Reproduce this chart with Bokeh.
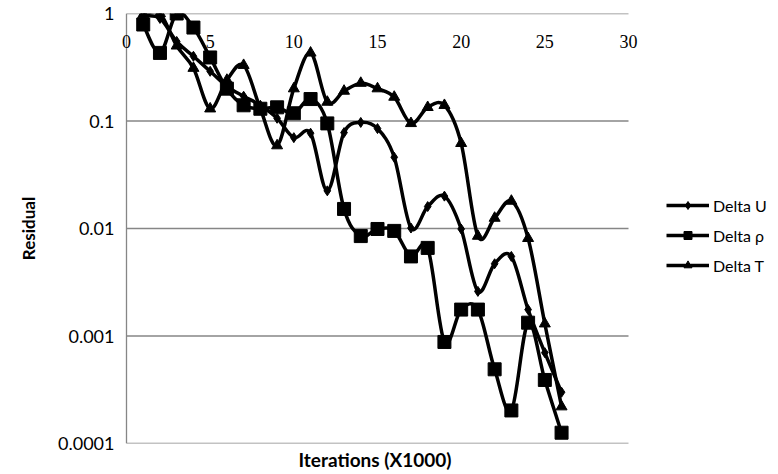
from bokeh.plotting import figure
from bokeh.models import (Range1d, FixedTicker, LabelSet, ColumnDataSource,
                          Legend, LegendItem, Title)
from bokeh.embed import file_html
from bokeh.resources import INLINE
import math

# ---- data ----
iterations = list(range(1, 27))  # x 1000
delta_u = [0.95, 0.9, 0.55, 0.40, 0.29, 0.21, 0.17, 0.14, 0.106, 0.070,
           0.077, 0.0224, 0.078, 0.097, 0.085, 0.046, 0.0101, 0.016, 0.020, 0.0099,
           0.0026, 0.0047, 0.0055, 0.00176, 0.0007, 0.0003]
delta_rho = [0.79, 0.43, 1.0, 0.74, 0.39, 0.20, 0.14, 0.13, 0.134, 0.118,
             0.16, 0.095, 0.0152, 0.0085, 0.0099, 0.0095, 0.0055, 0.0066, 0.00088, 0.00176,
             0.00176, 0.00049, 0.000203, 0.00133, 0.00039, 0.000126]
delta_t = [0.98, 1.0, 0.5, 0.31, 0.13, 0.24, 0.33, 0.13, 0.059, 0.2,
           0.43, 0.15, 0.19, 0.225, 0.2, 0.167, 0.095, 0.134, 0.14, 0.062,
           0.0085, 0.0125, 0.018, 0.0081, 0.0013, 0.00022]
series_names = ["Delta U", "Delta \u03c1", "Delta T"]
x_ticks = [0, 5, 10, 15, 20, 25, 30]
x_tick_labels = ["0", "5", "10", "15", "20", "25", "30"]
y_ticks = [0.0001, 0.001, 0.01, 0.1, 1]
y_tick_labels = ["0.0001", "0.001", "0.01", "0.1", "1"]

FONT = "Lato"
GRID = "#868686"

W, H = 770, 472
AXIS_PX = 126          # where x = 0 sits inside the figure
LEFT = 116             # frame starts a little left of x = 0 so the "0" label is not clipped
PX_PER_UNIT = 502 / 30.0
X_START = -(AXIS_PX - LEFT) / PX_PER_UNIT
X_END = (W - AXIS_PX) / PX_PER_UNIT   # frame continues under the legend

p = figure(width=W, height=H, y_axis_type="log",
           x_range=Range1d(X_START, X_END), y_range=Range1d(y_ticks[0], y_ticks[-1]),
           output_backend="svg", toolbar_location=None,
           min_border_left=LEFT, min_border_right=0,
           min_border_top=13, min_border_bottom=0)
p.outline_line_color = None
p.background_fill_color = "white"
p.border_fill_color = "white"

# y axis (labels and title only; its line is drawn at x = 0 below)
p.yaxis.ticker = FixedTicker(ticks=y_ticks)
p.yaxis.major_label_overrides = {t: l for t, l in zip(y_ticks, y_tick_labels)}
p.yaxis.major_tick_line_color = None
p.yaxis.minor_tick_line_color = None
p.yaxis.major_tick_out = 0
p.yaxis.minor_tick_out = 0
p.yaxis.major_tick_in = 0
p.yaxis.minor_tick_in = 0
p.yaxis.axis_line_color = None
p.yaxis.major_label_standoff = 2
p.yaxis.major_label_text_font = FONT
p.yaxis.major_label_text_font_size = "18px"
p.yaxis.major_label_text_color = "black"
p.yaxis.axis_label = "Residual"
p.yaxis.axis_label_text_font = FONT
p.yaxis.axis_label_text_font_style = "bold"
p.yaxis.axis_label_text_font_size = "17px"
p.yaxis.axis_label_text_color = "black"
p.yaxis.axis_label_standoff = 16

p.xaxis.visible = False
p.add_layout(Title(text="Iterations (X1000)", align="left", text_font=FONT,
                   text_font_style="bold", text_font_size="19px",
                   text_color="black", standoff=4, offset=182), "below")

# grid lines only across the 0..30 span, and the vertical axis line at x = 0
p.xgrid.grid_line_color = None
p.ygrid.grid_line_color = None
n_y = len(y_ticks)
p.segment(x0=[x_ticks[0]] * n_y, y0=y_ticks, x1=[x_ticks[-1]] * n_y, y1=y_ticks,
          line_color=GRID, line_width=1.3)
p.segment(x0=[x_ticks[0]], y0=[y_ticks[0]], x1=[x_ticks[0]], y1=[y_ticks[-1]],
          line_color=GRID, line_width=1.3)

# x tick labels inside the plot, just under the top line
lbl_src = ColumnDataSource(dict(x=x_ticks, y=[y_ticks[-1]] * len(x_ticks), t=x_tick_labels))
p.add_layout(LabelSet(x="x", y="y", text="t", source=lbl_src, y_offset=-28,
                      text_align="center", text_baseline="middle",
                      text_font=FONT, text_font_size="18px", text_color="black"))


def smooth_segments(xs, ys):
    """Excel-like smoothed line: cubic Bezier pieces in (x, log10 y) space."""
    ly = [math.log10(v) for v in ys]
    n = len(xs)
    out = dict(x0=[], y0=[], x1=[], y1=[], cx0=[], cy0=[], cx1=[], cy1=[])
    for i in range(n - 1):
        im1 = max(i - 1, 0)
        ip2 = min(i + 2, n - 1)
        c0x = xs[i] + (xs[i + 1] - xs[im1]) / 6.0
        c0y = ly[i] + (ly[i + 1] - ly[im1]) / 6.0
        c1x = xs[i + 1] - (xs[ip2] - xs[i]) / 6.0
        c1y = ly[i + 1] - (ly[ip2] - ly[i]) / 6.0
        out["x0"].append(xs[i]); out["y0"].append(ys[i])
        out["x1"].append(xs[i + 1]); out["y1"].append(ys[i + 1])
        out["cx0"].append(c0x); out["cy0"].append(10 ** c0y)
        out["cx1"].append(c1x); out["cy1"].append(10 ** c1y)
    return ColumnDataSource(out)


items = []
specs = [(delta_u, "diamond", 10), (delta_rho, "square", 13), (delta_t, "triangle", 11)]
for name, (vals, marker, size) in zip(series_names, specs):
    src = smooth_segments(iterations, vals)
    p.bezier(x0="x0", y0="y0", x1="x1", y1="y1", cx0="cx0", cy0="cy0",
             cx1="cx1", cy1="cy1", source=src, line_color="black", line_width=3.5)
    # legend-only line (a single NaN point, so nothing is drawn in the plot)
    ln = p.line([float("nan")], [float("nan")], line_color="black", line_width=3.5)
    sc = p.scatter(iterations, vals, marker=marker, size=size,
                   fill_color="black", line_color="black", line_width=1)
    items.append(LegendItem(label=name, renderers=[ln, sc]))

legend = Legend(items=items, location=(550, 168), orientation="vertical")
legend.label_text_font = FONT
legend.label_text_font_size = "16px"
legend.label_text_color = "black"
legend.glyph_width = 43
legend.glyph_height = 20
legend.label_height = 20
legend.spacing = 10
legend.label_standoff = 4
legend.padding = 4
legend.margin = 0
legend.border_line_color = None
legend.background_fill_alpha = 0
p.add_layout(legend, "center")

open("out.html", "w").write(file_html(p, INLINE))
